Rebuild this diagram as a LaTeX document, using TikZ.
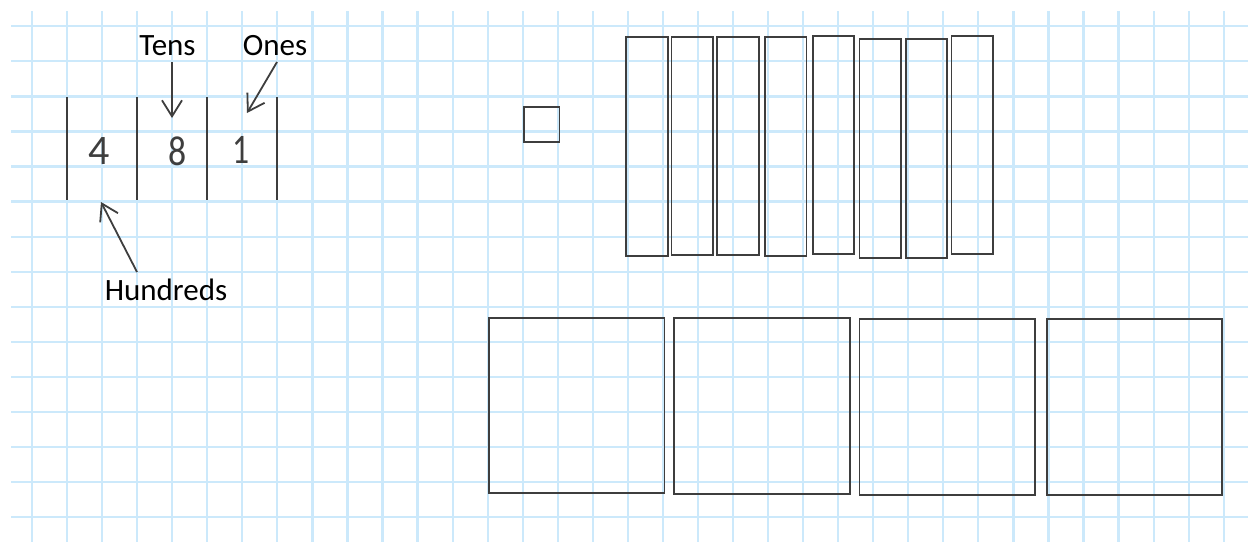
\documentclass[tikz,border=0pt]{standalone}
\usepackage{fontspec}
\setmainfont{Carlito}
\usetikzlibrary{arrows.meta}
\definecolor{gridblue}{RGB}{204,233,251}
\definecolor{ink}{RGB}{62,62,62}
\begin{document}
\begin{tikzpicture}[x=0.5pt,y=-0.5pt,
  gridline/.style={draw=gridblue,line width=1.1pt},
  inkline/.style={draw=ink,line width=1pt},
  arr/.style={draw=ink,line width=0.9pt,-{Straight Barb[length=8pt,width=10pt]}},
  block/.style={draw=ink,line width=0.9pt},
  lbl/.style={inner sep=0pt,font=\fontsize{15.5}{18}\selectfont,text=black},
  digit/.style={inner sep=0pt,font=\fontsize{21}{24}\selectfont,text=ink}]
\useasboundingbox (0,0) rectangle (1248,542);
\fill[white] (0,0) rectangle (1248,542);
% grid
\foreach \i in {0,...,34} \draw[gridline] ({32+35.05*\i},11) -- ({32+35.05*\i},542);
\foreach \j in {0,...,14} \draw[gridline] (11,{26.3+35.05*\j}) -- (1248,{26.3+35.05*\j});
% place value chart
\foreach \k/\x in {1/67,2/137,3/207,4/277}{
  \coordinate (c\k t) at (\x,97);
  \coordinate (c\k b) at (\x,200);
  \draw[inkline] (c\k t) -- (c\k b);
}
\node[digit] (d4) at (99,151) {4};
\node[digit,xscale=0.85] (d8) at (177.5,151) {8};
\node[digit,xscale=0.8] (d1) at (241,150) {1};
% labels
\node[lbl,anchor=base] (tens) at (167.5,55) {Tens};
\node[lbl,anchor=base] (ones) at (275,55) {Ones};
\node[lbl,anchor=base] (hund) at (166,300) {Hundreds};
\coordinate (tA) at (172,62);  \coordinate (tB) at (172,118);
\coordinate (oA) at (277,62);  \coordinate (oB) at (247,113);
\coordinate (hA) at (137,272); \coordinate (hB) at (101,202);
\draw[arr] (tA) -- (tB);
\draw[arr] (oA) -- (oB);
\draw[arr] (hA) -- (hB);
% one
\draw[block] (523.7,106.7) rectangle (559.5,142.3);
% tens
\draw[block] (626.3,37.3) rectangle (667.7,255.7);
\draw[block] (671.5,37.3) rectangle (712.8,255.3);
\draw[block] (717.3,37.3) rectangle (758.6,255.3);
\draw[block] (765.1,37.3) rectangle (806.4,255.7);
\draw[block] (812.6,36) rectangle (854,254.3);
\draw[block] (859.5,39.3) rectangle (900.8,257.7);
\draw[block] (905.6,39.3) rectangle (946.6,257.7);
\draw[block] (951.4,36) rectangle (992.7,254.3);
% hundreds
\draw[block] (488.9,317.7) rectangle (664.5,493.3);
\draw[block] (673.9,318) rectangle (849.6,493.7);
\draw[block] (859.5,319) rectangle (1035.2,495);
\draw[block] (1046.6,319) rectangle (1222.2,494.7);
\end{tikzpicture}
\end{document}
